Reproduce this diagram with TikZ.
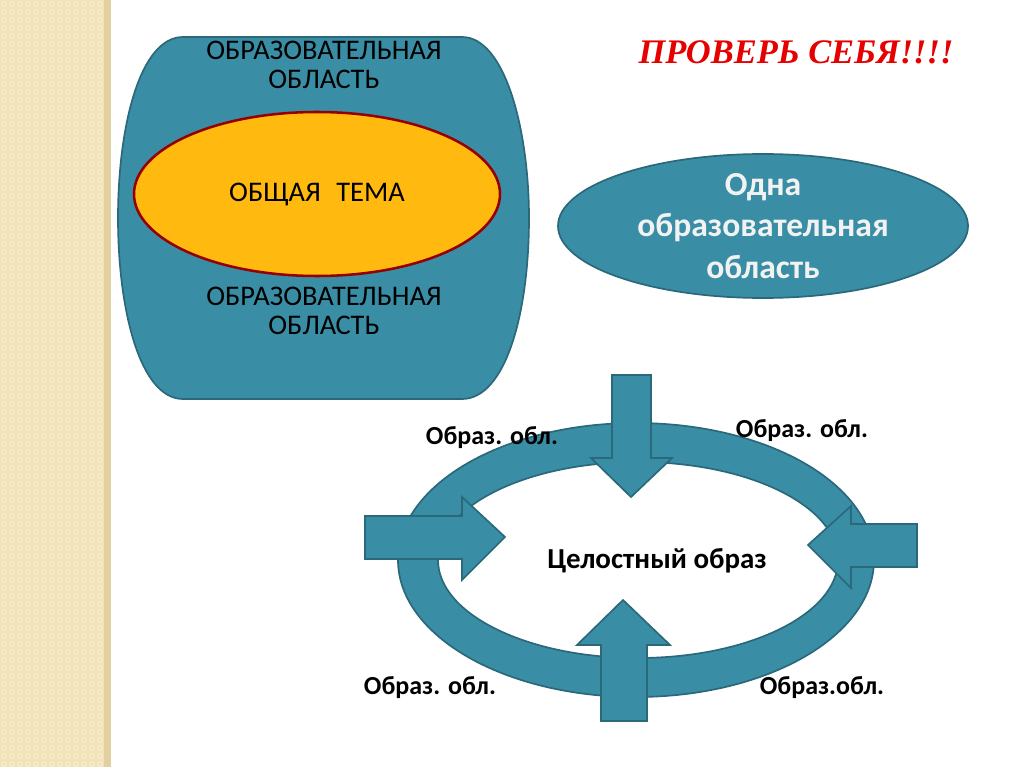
\documentclass[tikz,border=0pt]{standalone}
\usepackage{fontspec}
\setmainfont{Carlito}
\newfontfamily\titlefont{Liberation Serif}
\definecolor{tealf}{RGB}{57,142,166}
\definecolor{teald}{RGB}{42,104,122}
\definecolor{orangef}{RGB}{255,185,15}
\definecolor{darkred}{RGB}{150,0,0}
\definecolor{beige}{RGB}{241,226,184}
\definecolor{beigel}{RGB}{247,236,206}
\definecolor{beiged}{RGB}{226,208,160}
\definecolor{titlered}{RGB}{230,0,0}
\definecolor{whitetext}{RGB}{242,242,242}
\begin{document}
\begin{tikzpicture}[x=0.025cm,y=-0.025cm,
  tealshape/.style={fill=tealf,draw=teald,line width=1.2pt,line join=miter},
  plain/.style={font=\fontsize{20.2}{20.8}\selectfont,align=center,text=black,inner sep=0pt},
  lbl/.style={font=\bfseries\fontsize{18.5}{22}\selectfont,text=black,inner sep=0pt},
  big/.style={font=\bfseries\fontsize{23.9}{29.5}\selectfont,align=center,text=whitetext,inner sep=0pt}]
\useasboundingbox (0,0) rectangle (1024,767);
\fill[white] (0,0) rectangle (1024,767);
% left decorative stripe
\fill[beige] (0,0) rectangle (110,767);
\foreach \i in {0,...,13}{\foreach \j in {0,...,96}{
  \draw[beigel,line width=0.8pt] (4+8*\i,4+8*\j) circle [radius=2.4];}}
\fill[beiged] (104,0) rectangle (111,767);
% barrel shape
\path[tealshape] (183,37) -- (462,37)
  .. controls (505,37) and (529,130) .. (529,218)
  .. controls (529,315) and (505,399) .. (462,399)
  -- (183,399)
  .. controls (140,399) and (118,310) .. (118,218)
  .. controls (118,126) and (140,37) .. (183,37) -- cycle;
\draw[fill=orangef,draw=darkred,line width=1.8pt] (317,194) ellipse [x radius=183, y radius=82];
\node[plain] (t1) at (324,65) {ОБРАЗОВАТЕЛЬНАЯ\\ОБЛАСТЬ};
\node[plain] (t2) at (317,194) {ОБЩАЯ\hspace{0.55em}ТЕМА};
\node[plain] (t3) at (324,311) {ОБРАЗОВАТЕЛЬНАЯ\\ОБЛАСТЬ};
% title
\node[font=\titlefont\bfseries\itshape\fontsize{24.5}{28}\selectfont,text=titlered,inner sep=0pt] (title) at (796,52) {ПРОВЕРЬ СЕБЯ!!!!};
% right ellipse
\draw[tealshape] (763,226) ellipse [x radius=205, y radius=72];
\node[big] (one) at (763,226) {Одна\\образовательная\\область};
% ring
\path[tealshape,even odd rule] (636,560) ellipse [x radius=238, y radius=137]
  (638,560) ellipse [x radius=200, y radius=98];
% arrows
\path[tealshape] (612,375) -- (651,375) -- (651,458) -- (672,458) -- (631,497) -- (591,458) -- (612,458) -- cycle;
\path[tealshape] (365,516) -- (462,516) -- (462,497) -- (505,537) -- (462,580) -- (462,559) -- (365,559) -- cycle;
\path[tealshape] (917,524) -- (851,524) -- (851,506) -- (808,545) -- (851,588) -- (851,567) -- (917,567) -- cycle;
\path[tealshape] (601,721) -- (601,645) -- (577,645) -- (623,600) -- (670,645) -- (647,645) -- (647,721) -- cycle;
% labels
\node[lbl] (l1) at (492,438) {Образ. обл.};
\node[lbl] (l2) at (802,431) {Образ. обл.};
\node[lbl] (l3) at (430,688) {Образ. обл.};
\node[lbl] (l4) at (822,688) {Образ.обл.};
\node[lbl,font=\bfseries\fontsize{20.6}{24}\selectfont] (c) at (657,561) {Целостный образ};
\end{tikzpicture}
\end{document}
